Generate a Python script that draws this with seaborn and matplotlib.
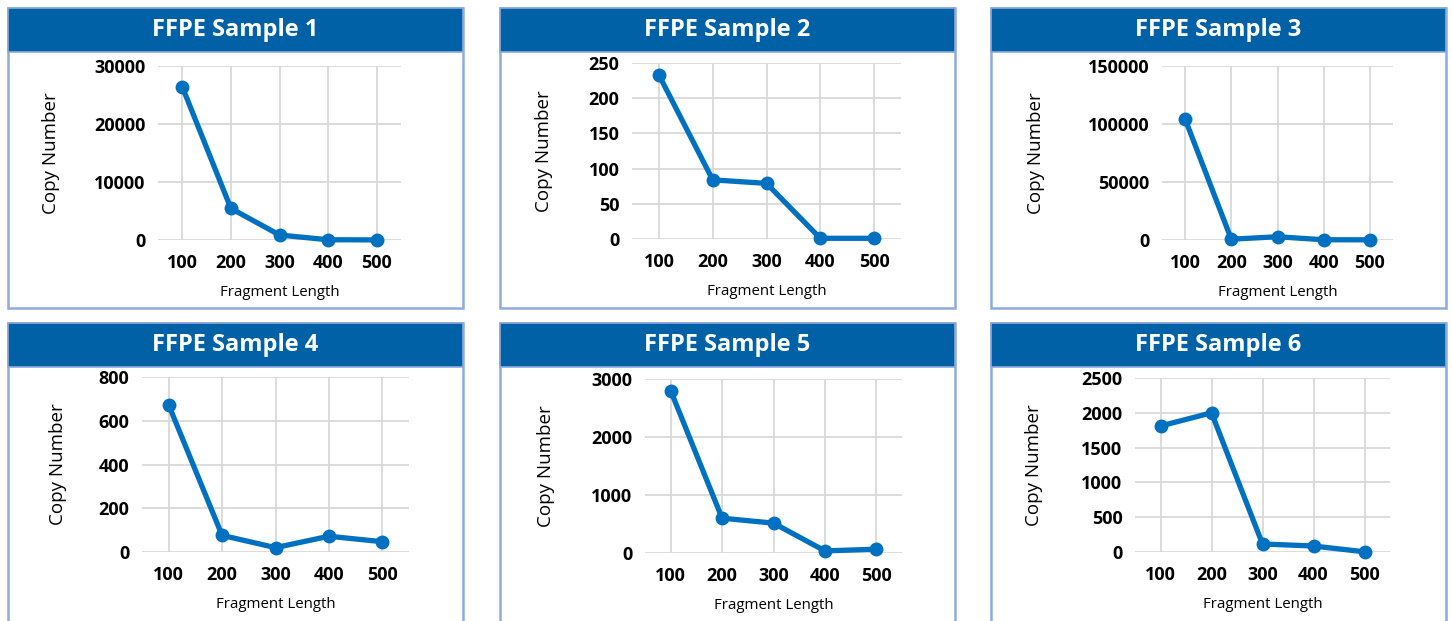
import numpy as np
import seaborn as sns
import matplotlib.pyplot as plt
from matplotlib.patches import Rectangle

# data
fragment_length = [100, 200, 300, 400, 500]
sample_names = ["FFPE Sample 1", "FFPE Sample 2", "FFPE Sample 3",
                "FFPE Sample 4", "FFPE Sample 5", "FFPE Sample 6"]
sample1 = [26400, 5450, 860, 40, 20]
sample2 = [233, 84, 79, 1, 1]
sample3 = [104300, 700, 2800, 200, 150]
sample4 = [672, 76, 20, 72, 47]
sample5 = [2798, 600, 515, 36, 66]
sample6 = [1810, 2000, 115, 86, 3]
y_max = [30000, 250, 150000, 800, 3000, 2500]
y_step = [10000, 50, 50000, 200, 1000, 500]

W, H = 1452, 621
TITLE_BLUE = "#0061A6"
LINE_BLUE = "#0070C0"
BORDER = "#8FAADC"

# panel frames (left, top) and plot boxes in pixels
panels = [(8, 8), (500, 8), (991, 8), (8, 323), (500, 323), (991, 323)]
axes_px = [(158, 66, 401, 240), (632, 63, 901, 239), (1162, 66, 1393, 240),
           (142, 377, 409, 552), (645, 379, 902, 553), (1135, 378, 1390, 552)]
ylabel_px = [60, 553, 1045, 67, 555, 1043]


def fx(x):
    return x / W


def fy(y):
    return 1 - y / H


sns.set_theme(style="whitegrid")
plt.rcParams['font.family'] = ['Open Sans', 'DejaVu Sans']

fig = plt.figure(figsize=(W / 100, H / 100), dpi=100)
fig.patch.set_facecolor("white")

series = [sample1, sample2, sample3, sample4, sample5, sample6]
for i, values in enumerate(series):
    px, py = panels[i]
    pw, ph = 455, 300
    # frame and title bar
    fig.patches.append(Rectangle((fx(px), fy(py + ph)), pw / W, ph / H,
                                 transform=fig.transFigure, facecolor="white",
                                 edgecolor=BORDER, linewidth=1.8, zorder=-2))
    fig.patches.append(Rectangle((fx(px), fy(py + 44)), pw / W, 44 / H,
                                 transform=fig.transFigure, facecolor=TITLE_BLUE,
                                 edgecolor=BORDER, linewidth=1.2, zorder=-1))
    fig.text(fx(px + pw / 2), fy(py + 22), sample_names[i], color="white",
             fontsize=17, fontweight="bold", ha="center", va="center")

    l, t, r, b = axes_px[i]
    ax = fig.add_axes([fx(l), fy(b), (r - l) / W, (b - t) / H])
    ax.set_zorder(2)
    ax.set_facecolor("none")
    sns.lineplot(x=fragment_length, y=values, ax=ax, color=LINE_BLUE,
                 linewidth=3.8, marker="o", markersize=10,
                 markeredgewidth=0, clip_on=False)
    ax.set_xlim(50, 550)
    ax.set_ylim(0, y_max[i])
    ax.set_xticks(fragment_length)
    ax.set_yticks(np.arange(0, y_max[i] + 1, y_step[i]))
    ax.grid(True, color="#D9D9D9", linewidth=1.3)
    for s in ax.spines.values():
        s.set_visible(False)
    ax.tick_params(axis="both", length=0, labelsize=13, colors="black")
    ax.tick_params(axis="x", pad=10)
    ax.tick_params(axis="y", pad=9)
    for lab in ax.get_xticklabels() + ax.get_yticklabels():
        lab.set_fontweight("bold")
    ax.set_xlabel("Fragment Length", fontsize=10.8, color="black")
    ax.xaxis.set_label_coords(0.5, -45 / (b - t))
    ax.set_ylabel("Copy Number", fontsize=13.5, color="black")
    ax.yaxis.set_label_coords((ylabel_px[i] - l) / (r - l), 0.5)

fig.savefig("out.png", dpi=100)
